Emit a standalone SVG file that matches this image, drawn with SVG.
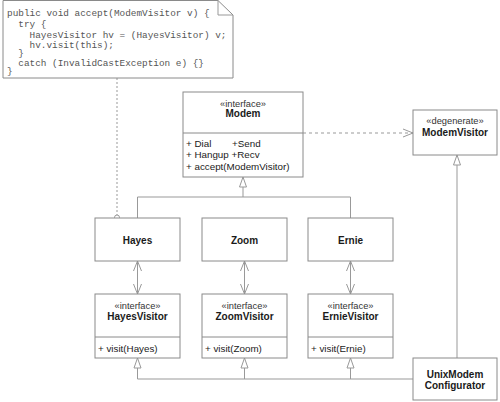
<svg xmlns="http://www.w3.org/2000/svg" width="500" height="402" viewBox="0 0 500 402">
<style>
.box{fill:#fff;stroke:#8a8a8a;stroke-width:1}
.ln{fill:none;stroke:#999;stroke-width:1}
.tri{fill:#fff;stroke:#999;stroke-width:1}
.t{font-family:"Liberation Sans",Arial,sans-serif;font-size:9.8px;fill:#1a1a1a}
.b{font-weight:bold;font-size:10px}
.s{font-size:9.3px;fill:#333}
.m{font-family:"Liberation Mono","Courier New",monospace;font-size:9.4px;fill:#555}
</style>
<defs>
<marker id="open" viewBox="0 0 10 10" refX="10" refY="5" markerWidth="10" markerHeight="10" markerUnits="userSpaceOnUse" orient="auto-start-reverse">
<path d="M0,1 L10,5 L0,9" fill="none" stroke="#999" stroke-width="1"/>
</marker>
</defs>
<g id="connectors">
<line class="ln" x1="117" y1="78" x2="117" y2="215" stroke-dasharray="2,2"/>
<circle cx="117" cy="217.5" r="2.5" fill="#fff" stroke="#999"/>
<line class="ln" x1="303" y1="133" x2="413" y2="133" stroke-dasharray="3,3" marker-end="url(#open)"/>
<path class="ln" d="M243,187 V197 M137.5,218 V197 H350.5 V218"/>
<path class="tri" d="M243,177 L239.5,187 L246.5,187 Z"/>
<line class="ln" x1="137.5" y1="261" x2="137.5" y2="294" marker-start="url(#open)" marker-end="url(#open)"/>
<line class="ln" x1="244.5" y1="261" x2="244.5" y2="294" marker-start="url(#open)" marker-end="url(#open)"/>
<line class="ln" x1="350.5" y1="261" x2="350.5" y2="294" marker-start="url(#open)" marker-end="url(#open)"/>
<path class="ln" d="M137.5,368 V379 H413 M244.5,368 V379 M350.5,368 V379"/>
<path class="tri" d="M137.5,358 L134,368 L141,368 Z"/>
<path class="tri" d="M244.5,358 L241,368 L248,368 Z"/>
<path class="tri" d="M350.5,358 L347,368 L354,368 Z"/>
<line class="ln" x1="457" y1="165" x2="457" y2="358"/>
<path class="tri" d="M457,155 L453.5,165 L460.5,165 Z"/>
</g>
<g id="note">
<path class="box" d="M3,0.5 H218 L233,15 V78 H3 Z"/>
<path class="ln" d="M218,0.5 V15 H233"/>
<text class="m" x="7" y="16">public void accept(ModemVisitor v) {</text>
<text class="m" x="18.3" y="27">try {</text>
<text class="m" x="29.6" y="37.5">HayesVisitor hv = (HayesVisitor) v;</text>
<text class="m" x="29.6" y="47.5">hv.visit(this);</text>
<text class="m" x="18.3" y="56">}</text>
<text class="m" x="18.3" y="65.5">catch (InvalidCastException e) {}</text>
<text class="m" x="7" y="73.5">}</text>
</g>
<g id="Modem">
<rect class="box" x="183" y="92" width="120" height="85"/>
<line class="box" x1="183" y1="133" x2="303" y2="133"/>
<text class="t s" x="243" y="106.5" text-anchor="middle">«interface»</text>
<text class="t b" x="243" y="117" text-anchor="middle">Modem</text>
<text class="t" x="186" y="147">+ Dial</text>
<text class="t" x="232" y="147">+Send</text>
<text class="t" x="186" y="158">+ Hangup +Recv</text>
<text class="t" x="186" y="170">+ accept(ModemVisitor)</text>
</g>
<g id="ModemVisitor">
<rect class="box" x="413" y="110" width="84" height="45"/>
<text class="t s" x="455" y="123.5" text-anchor="middle">«degenerate»</text>
<text class="t b" x="455" y="135.5" text-anchor="middle">ModemVisitor</text>
</g>
<g id="Hayes">
<rect class="box" x="95" y="218" width="85" height="43"/>
<text class="t b" x="137.5" y="243.5" text-anchor="middle">Hayes</text>
</g>
<g id="Zoom">
<rect class="box" x="202" y="218" width="85" height="43"/>
<text class="t b" x="244.5" y="243.5" text-anchor="middle">Zoom</text>
</g>
<g id="Ernie">
<rect class="box" x="308" y="218" width="85" height="43"/>
<text class="t b" x="350.5" y="243.5" text-anchor="middle">Ernie</text>
</g>
<g id="HayesVisitor">
<rect class="box" x="95" y="294" width="85" height="64"/>
<line class="box" x1="95" y1="337" x2="180" y2="337"/>
<text class="t s" x="137.5" y="308.5" text-anchor="middle">«interface»</text>
<text class="t b" x="137.5" y="320" text-anchor="middle">HayesVisitor</text>
<text class="t" x="98" y="352">+ visit(Hayes)</text>
</g>
<g id="ZoomVisitor">
<rect class="box" x="202" y="294" width="85" height="64"/>
<line class="box" x1="202" y1="337" x2="287" y2="337"/>
<text class="t s" x="244.5" y="308.5" text-anchor="middle">«interface»</text>
<text class="t b" x="244.5" y="320" text-anchor="middle">ZoomVisitor</text>
<text class="t" x="205" y="352">+ visit(Zoom)</text>
</g>
<g id="ErnieVisitor">
<rect class="box" x="308" y="294" width="85" height="64"/>
<line class="box" x1="308" y1="337" x2="393" y2="337"/>
<text class="t s" x="350.5" y="308.5" text-anchor="middle">«interface»</text>
<text class="t b" x="350.5" y="320" text-anchor="middle">ErnieVisitor</text>
<text class="t" x="311" y="352">+ visit(Ernie)</text>
</g>
<g id="UnixModemConfigurator">
<rect class="box" x="413" y="358" width="84" height="42"/>
<text class="t b" x="455" y="378" text-anchor="middle">UnixModem</text>
<text class="t b" x="455" y="389" text-anchor="middle">Configurator</text>
</g>
</svg>
